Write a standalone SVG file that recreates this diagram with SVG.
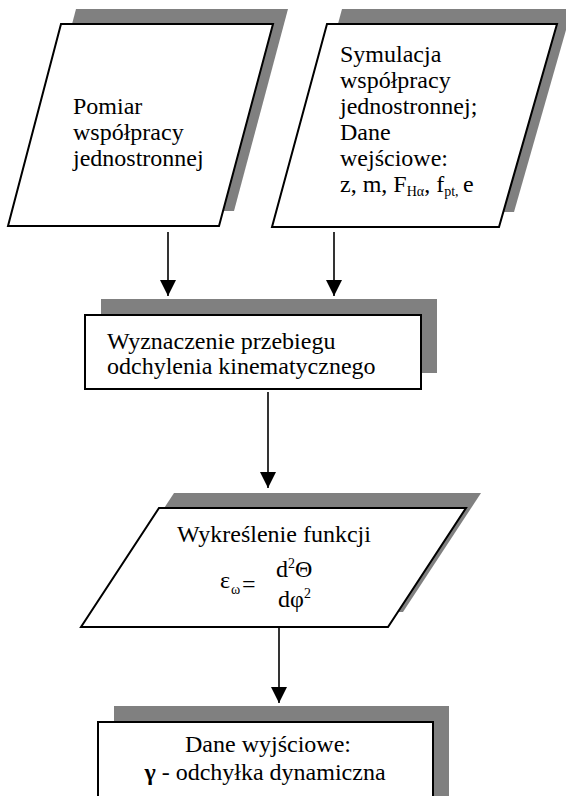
<svg xmlns="http://www.w3.org/2000/svg" width="566" height="796" viewBox="0 0 566 796">
<defs>
<style>
.sh{fill:#808080;stroke:none}
.nd{fill:#fff;stroke:#000;stroke-width:2}
.t{font-family:"Liberation Serif","Times New Roman",serif;font-size:24px;fill:#000}
.s{font-size:14px}
.sup{font-size:14px}
.c{stroke:#000;stroke-width:1.6;fill:none}
</style>
<marker id="ah" markerUnits="userSpaceOnUse" markerWidth="16" markerHeight="17" refX="16" refY="8" orient="auto">
<path d="M0,0 L16,8 L0,16 Z" fill="#000"/>
</marker>
</defs>
<rect width="566" height="796" fill="#fff"/>
<g id="node-pomiar">
<polygon class="sh" points="76,9 288,9 234,211 23,211"/>
<polygon class="nd" points="61,24 273,24 219,226 8,226"/>
<text class="t" x="73" y="114">Pomiar</text>
<text class="t" x="73" y="140">współpracy</text>
<text class="t" x="73" y="166">jednostronnej</text>
</g>
<g id="node-symulacja">
<polygon class="sh" points="342,9 572,9 514,212 287,212"/>
<polygon class="nd" points="327,24 557,24 499,227 272,227"/>
<text class="t" x="340" y="62">Symulacja</text>
<text class="t" x="340" y="88">współpracy</text>
<text class="t" x="340" y="114">jednostronnej;</text>
<text class="t" x="340" y="140">Dane</text>
<text class="t" x="340" y="166">wejściowe:</text>
<text class="t" x="340" y="192">z, m, F<tspan class="s" dy="4">Hα</tspan><tspan dy="-4">, f</tspan><tspan class="s" dy="4">pt,</tspan><tspan dy="-4" x="463">e</tspan></text>
</g>
<g id="node-wyznaczenie">
<rect class="sh" x="101" y="299" width="336" height="74"/>
<rect class="nd" x="85" y="315" width="336" height="74"/>
<text class="t" x="107" y="349">Wyznaczenie przebiegu</text>
<text class="t" x="107" y="374">odchylenia kinematycznego</text>
</g>
<g id="node-wykreslenie">
<polygon class="sh" points="174,493 481,493 403,612 96,612"/>
<polygon class="nd" points="159,508 466,508 388,627 81,627"/>
<text class="t" x="274" y="542" text-anchor="middle">Wykreślenie funkcji</text>
<text class="t" x="220" y="588">ε</text>
<text class="t sup" x="231" y="594">ω</text>
<text class="t" x="242" y="592">=</text>
<text class="t" x="276" y="577">d</text>
<text class="t sup" x="288" y="568">2</text>
<text class="t" x="295" y="577">Θ</text>
<text class="t" x="278" y="607">dφ</text>
<text class="t sup" x="304" y="598">2</text>
</g>
<g id="node-dane">
<rect class="sh" x="114" y="706" width="335" height="110"/>
<rect class="nd" x="98" y="722" width="335" height="110"/>
<text class="t" x="268" y="752" text-anchor="middle">Dane wyjściowe:</text>
<text class="t" x="265" y="780" text-anchor="middle"><tspan font-weight="bold">γ</tspan> - odchyłka dynamiczna</text>
</g>
<g id="connectors">
<line class="c" x1="168" y1="232" x2="168" y2="296" marker-end="url(#ah)"/>
<line class="c" x1="334" y1="232" x2="334" y2="296" marker-end="url(#ah)"/>
<line class="c" x1="268" y1="392" x2="268" y2="488" marker-end="url(#ah)"/>
<line class="c" x1="279" y1="628" x2="279" y2="703" marker-end="url(#ah)"/>
</g>
</svg>
